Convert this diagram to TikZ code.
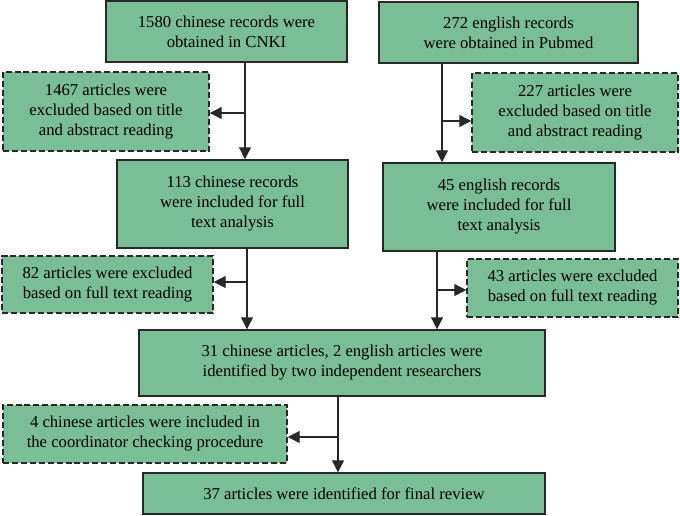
\documentclass[tikz,border=0pt]{standalone}
\usepackage{fontspec}
\setmainfont{Liberation Serif}
\usetikzlibrary{arrows.meta}
\definecolor{boxgreen}{RGB}{122,190,150}
\definecolor{edge}{RGB}{40,40,40}
\begin{document}
\begin{tikzpicture}[x=0.75pt,y=-0.75pt,
  box/.style={draw=edge,fill=boxgreen,line width=1.1pt,align=center,inner sep=0pt,
    font=\fontsize{12.5}{15}\selectfont},
  dbox/.style={box,dashed,dash pattern=on 4.5pt off 2.2pt},
  arr/.style={draw=edge,line width=0.9pt,-{Triangle[length=9pt,width=9pt]}},
  ln/.style={draw=edge,line width=0.9pt}]
\useasboundingbox (0,0) rectangle (680,515);
% main boxes
\node[box,minimum width={241*0.75pt},minimum height={61*0.75pt}] (A) at (226.5,31.5) {1580 chinese records were\\obtained in CNKI};
\node[box,minimum width={259*0.75pt},minimum height={61*0.75pt}] (B) at (508.5,32.5) {272 english records\\were obtained in Pubmed};
\node[box,minimum width={231*0.75pt},minimum height={88*0.75pt}] (D) at (232.5,204) {113 chinese records\\were included for full\\text analysis};
\node[box,minimum width={232*0.75pt},minimum height={88*0.75pt}] (F) at (499,207) {45 english records\\were included for full\\text analysis};
\node[box,minimum width={406*0.75pt},minimum height={66*0.75pt}] (H) at (342,363) {31 chinese articles, 2 english articles were\\identified by two independent researchers};
\node[box,minimum width={402*0.75pt},minimum height={41*0.75pt}] (K) at (344,493.5) {37 articles were identified for final review};
% dashed boxes
\node[dbox,minimum width={206*0.75pt},minimum height={79*0.75pt}] (C) at (106,111.5) {1467 articles were\\excluded based on title\\and abstract reading};
\node[dbox,minimum width={206*0.75pt},minimum height={79*0.75pt}] (E) at (575,112.5) {227 articles were\\excluded based on title\\and abstract reading};
\node[dbox,minimum width={211*0.75pt},minimum height={57*0.75pt}] (G) at (107.5,284.5) {82 articles were excluded\\based on full text reading};
\node[dbox,minimum width={211*0.75pt},minimum height={58*0.75pt}] (I) at (572.5,288) {43 articles were excluded\\based on full text reading};
\node[dbox,minimum width={284*0.75pt},minimum height={58*0.75pt}] (J) at (145,434) {4 chinese articles were included in\\the coordinator checking procedure};
% connector coordinates
\coordinate (xa) at (245,0);
\coordinate (xb) at (442,0);
\coordinate (xd) at (247,0);
\coordinate (xf) at (437,0);
\coordinate (xh) at (338,0);
\coordinate (pc) at (245,113);
\coordinate (pe) at (442,121);
\coordinate (pg) at (247,282);
\coordinate (pi) at (437,290);
\coordinate (pj) at (338,437);
% vertical flows
\draw[arr] (A.south -| xa) -- (D.north -| xa);
\draw[arr] (B.south -| xb) -- (F.north -| xb);
\draw[arr] (D.south -| xd) -- (H.north -| xd);
\draw[arr] (F.south -| xf) -- (H.north -| xf);
\draw[arr] (H.south -| xh) -- (K.north -| xh);
% side arrows
\draw[arr] (pc) -- (pc -| C.east);
\draw[arr] (pe) -- (pe -| E.west);
\draw[arr] (pg) -- (pg -| G.east);
\draw[arr] (pi) -- (pi -| I.west);
\draw[arr] (pj) -- (pj -| J.east);
\end{tikzpicture}
\end{document}
